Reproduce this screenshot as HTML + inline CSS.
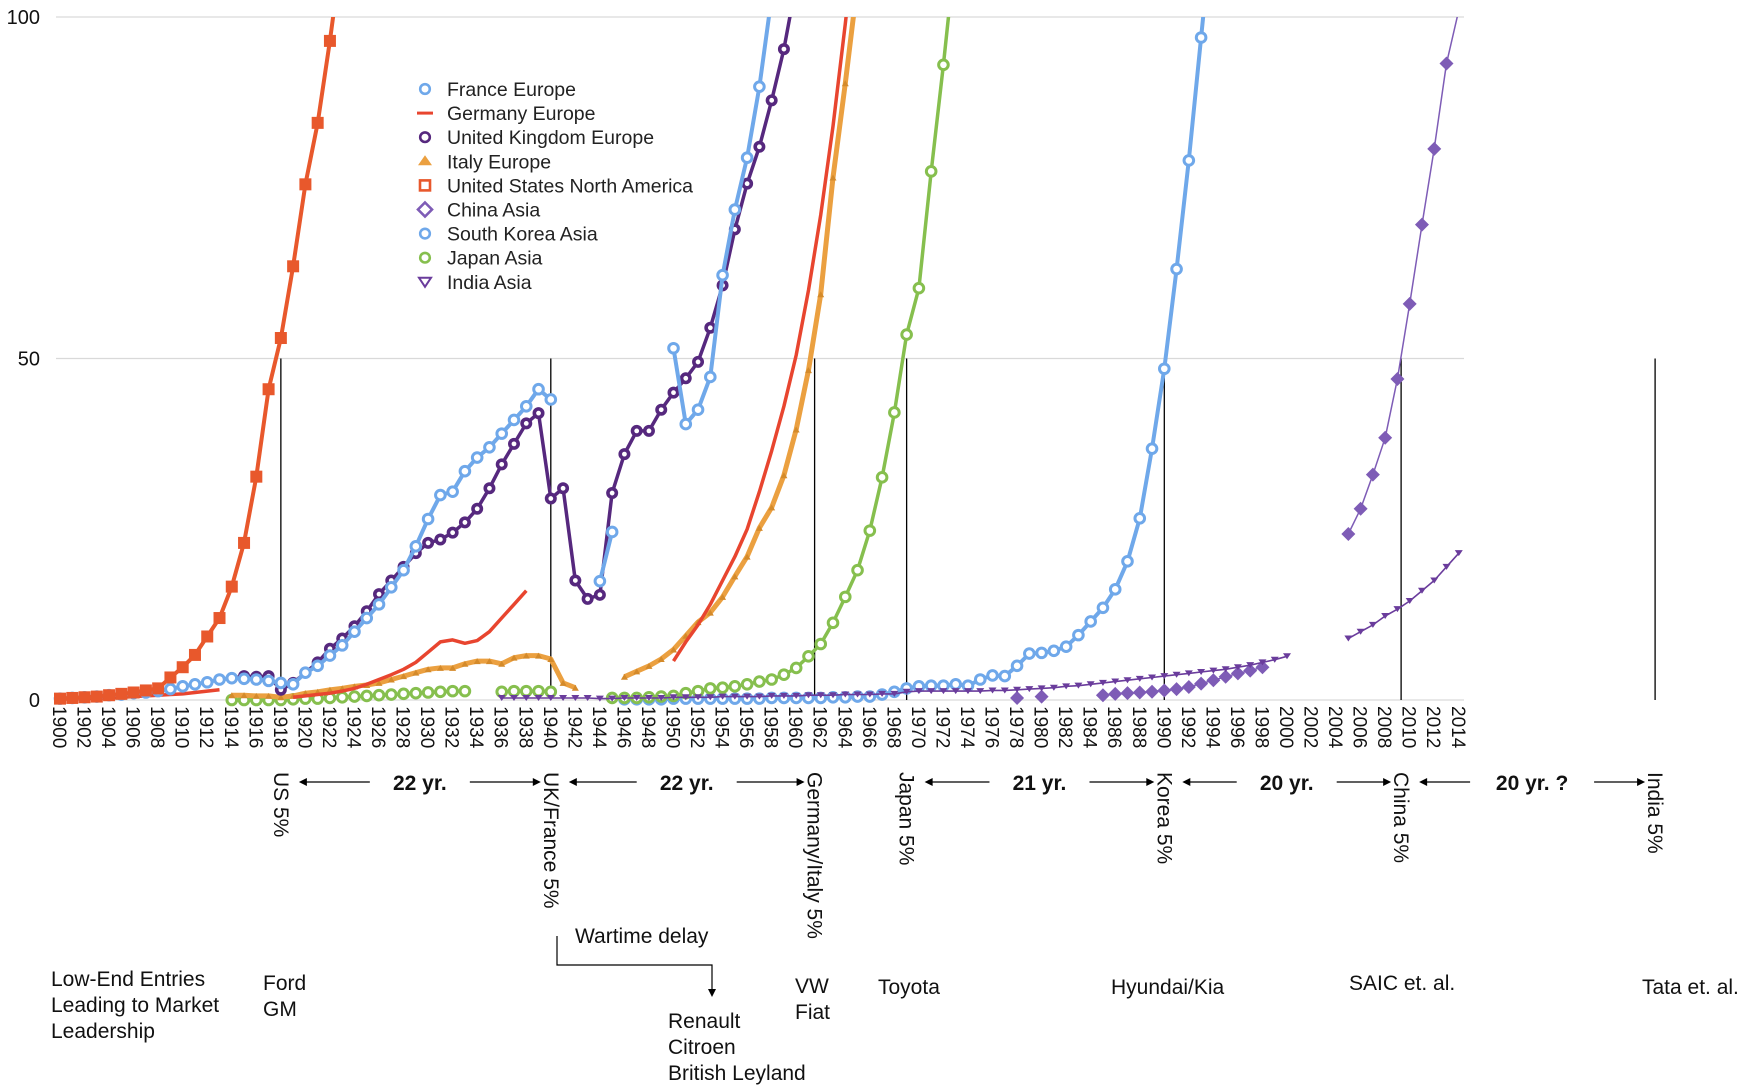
<!DOCTYPE html>
<html><head><meta charset="utf-8"><style>
html,body{margin:0;padding:0;background:#fff;}
svg{display:block;font-family:"Liberation Sans",Arial,sans-serif;}
</style></head><body>
<svg id="chart" width="1760" height="1090" viewBox="0 0 1760 1090" xmlns="http://www.w3.org/2000/svg">
<defs><clipPath id="plotclip"><rect x="40" y="17" width="1440" height="700"/></clipPath></defs>
<g id="grid"></g>
<g id="xticks"></g>
<g id="yticks"></g>
<g id="marks"></g>
<g id="series" clip-path="url(#plotclip)"></g>
<g id="legend"></g>
<g id="annot" font-size="20" fill="#111"></g>
</svg>
<script>
const yTicks=[0,50,100];
const yearStart=1900, yearEnd=2014;
const markerYears=[1918,1940,1961.5,1969,1990,2009.3,2030];
const markerLabels=["US 5%","UK/France 5%","Germany/Italy 5%","Japan 5%","Korea 5%","China 5%","India 5%"];
const gapFrom=[0,1,3,4,5];
const gapLabels=["22 yr.","22 yr.","21 yr.","20 yr.","20 yr. ?"];
const N=null;
const usStart=1900;
const usVals=[0.2,0.3,0.4,0.5,0.7,0.9,1.1,1.4,1.7,3.3,4.8,6.6,9.3,12,16.6,23,32.7,45.5,53,63.5,75.5,84.5,96.5,110];
const franceStart=1900;
const franceVals=[0.2,0.3,0.4,0.5,0.7,0.8,1,1.1,1.3,1.6,2,2.3,2.6,3,3.2,3.1,3,2.8,2.5,2.3,4,5,6.5,8,10,12,14,16.5,19,22.5,26.5,30,30.5,33.5,35.5,37,39,41,43,45.5,44,N,N,N,17.4,24.6,N,N,N,N,51.5,40.4,42.5,47.3,62.2,71.8,79.4,89.8,103];
const germanyStart=1900;
const germanyVals=[0.1,0.15,0.2,0.25,0.3,0.4,0.5,0.6,0.7,0.8,0.9,1.1,1.3,1.5,N,N,N,N,N,0.4,0.6,0.8,1,1.3,1.7,2.3,3,3.7,4.5,5.5,7,8.5,8.8,8.3,8.7,10,12,14,16,N,N,N,N,N,N,N,N,N,N,N,5.7,8.5,11,14,17.5,21,25,30.5,36.5,43,50.5,60,71,84,99,115];
const ukStart=1914;
const ukVals=[3.2,3.5,3.4,3.5,1.5,2.5,4,5.5,7.5,9,10.8,13,15.5,17.5,19.5,21.5,23,23.5,24.5,26,28,31,34.5,37.5,40.5,42,29.5,31,17.5,14.8,15.4,30.3,36,39.4,39.4,42.5,45,47.1,49.5,54.5,60.7,68.9,75.6,81,87.8,95.3,105];
const italyStart=1914;
const italyVals=[0.7,0.7,0.6,0.6,0.4,0.6,1,1.2,1.5,1.7,2,2.2,2.5,3,3.5,4,4.5,4.7,4.7,5.3,5.7,5.7,5.3,6.2,6.5,6.5,6,2.5,1.8,N,N,N,3.4,4.2,5,6,7.4,9.4,11.4,12.8,15.1,18.1,21,25.2,28.2,32.9,39.6,48.3,59.4,76.5,90.3,105];
const chinaStart=1978;
const chinaVals=[0.3,N,0.5,N,N,N,N,0.7,0.9,1,1.1,1.2,1.4,1.6,1.9,2.4,2.9,3.4,3.9,4.3,4.8,N,N,N,N,N,N,24.3,28,33,38.4,47,58,69.6,80.7,93.2,101];
const koreaStart=1946;
const koreaVals=[0.1,0.1,0.1,0.1,0.2,0.2,0.2,0.2,0.2,0.2,0.2,0.2,0.3,0.3,0.3,0.3,0.3,0.4,0.4,0.5,0.5,0.8,1.2,1.7,2,2.1,2.1,2.3,2.1,3,3.6,3.5,5,6.8,6.9,7.2,7.8,9.5,11.5,13.5,16.2,20.3,26.6,36.8,48.5,63.1,79,97,115];
const japanStart=1914;
const japanVals=[0,0,0,0,0,0.1,0.2,0.2,0.3,0.4,0.5,0.6,0.7,0.8,0.9,1,1.1,1.2,1.3,1.3,N,N,1.2,1.3,1.3,1.3,1.2,N,N,N,N,0.3,0.3,0.3,0.4,0.5,0.6,1,1.3,1.7,1.8,2,2.3,2.7,3,3.7,4.7,6.4,8.2,11.3,15.1,19,24.8,32.6,42.1,53.5,60.3,77.4,93,110];
const indiaStart=1936;
const indiaVals=[0.3,0.3,0.3,0.3,0.3,0.3,0.3,0.3,0.2,0.2,0.3,0.3,0.3,0.3,0.4,0.4,0.4,0.4,0.5,0.5,0.5,0.5,0.6,0.6,0.6,0.7,0.7,0.7,0.8,0.8,0.8,0.9,0.9,1.2,1.3,1.3,1.3,1.3,1.3,1.3,1.4,1.4,1.5,1.6,1.7,1.8,2,2.1,2.3,2.5,2.7,2.9,3.1,3.3,3.5,3.7,3.9,4.1,4.3,4.5,4.8,5.1,5.5,5.9,6.4,N,N,N,N,9,10,11,12.3,13.3,14.5,16,17.5,19.5,21.5];
const legendNames=["France Europe","Germany Europe","United Kingdom Europe","Italy Europe","United States North America","China Asia","South Korea Asia","Japan Asia","India Asia"];

const NS="http://www.w3.org/2000/svg";
function xs(yr){return 60+12.27*(yr-1900);}
function ys(v){return 700-6.83*v;}
function mk(tag,attrs,parent){const e=document.createElementNS(NS,tag);for(const k in attrs)e.setAttribute(k,attrs[k]);parent.appendChild(e);return e;}
const G=id=>document.getElementById(id);

yTicks.forEach(t=>{
  const l=mk('line',{x1:56,x2:1464,y1:ys(t),y2:ys(t),stroke:'#d9d9d9','stroke-width':1.2},G('grid'));
  
  
  const tx=mk('text',{x:40,y:ys(t)+7,'text-anchor':'end','font-size':20,fill:'#111'},G('yticks'));
  tx.textContent=t;
  
  
});
for(let yr=yearStart;yr<=yearEnd;yr+=2){
  const t=mk('text',{transform:`translate(${xs(yr)-7},706) rotate(90)`,'font-size':19,fill:'#111'},G('xticks'));
  t.textContent=yr;
  
  
}
markerYears.forEach((yr,i)=>{
  const l=mk('line',{x1:xs(yr),x2:xs(yr),y1:ys(50),y2:ys(0),stroke:'#000','stroke-width':1.3},G('marks'));
  
  
  const t=mk('text',{transform:`translate(${xs(yr)-7},772) rotate(90)`,'font-size':21,fill:'#111'},G('annot'));
  t.textContent=markerLabels[i];
  
  
});
for(let i=0;i<gapLabels.length;i++){
  const k=gapFrom[i];
  const a=xs(markerYears[k])+22, b=xs(markerYears[k+1])-14, mid=(a+b)/2, y=782;
  const half=gapLabels[i].length*6+14;
  const g=mk('g',{},G('annot'));
  
  
  mk('line',{x1:a,x2:mid-half,y1:y,y2:y,stroke:'#000','stroke-width':1.2},g);
  mk('line',{x1:mid+half,x2:b,y1:y,y2:y,stroke:'#000','stroke-width':1.2},g);
  mk('path',{d:`M${a-4},${y} l8,-4 v8z`,fill:'#000'},g);
  mk('path',{d:`M${b+4},${y} l-8,-4 v8z`,fill:'#000'},g);
  const t=mk('text',{x:mid,y:y+8,'text-anchor':'middle','font-size':21,'font-weight':'bold',fill:'#111'},g);
  t.textContent=gapLabels[i];
}
function pathFor(start,vals){
  let d='',pen=false;
  vals.forEach((v,i)=>{if(v===null){pen=false;return;}d+=(pen?'L':'M')+xs(start+i).toFixed(1)+','+ys(v).toFixed(1);pen=true;});
  return d;
}
function marker(g,type,x,y,color){
  if(type==='circle') mk('circle',{cx:x,cy:y,r:4.8,fill:'#fff',stroke:color,'stroke-width':3},g);
  else if(type==='ukcircle') mk('circle',{cx:x,cy:y,r:4.2,fill:'#fff',stroke:color,'stroke-width':3.6},g);
  else if(type==='square') mk('rect',{x:x-6,y:y-6,width:12,height:12,fill:color},g);
  else if(type==='diamond') mk('path',{d:`M${x},${y-7}l7,7l-7,7l-7,-7z`,fill:color},g);
  else if(type==='tri') mk('path',{d:`M${x-4},${y-3}h8l-4,6z`,fill:color},g);
  else if(type==='triup') mk('path',{d:`M${x-3.5},${y+3}h7l-3.5,-6z`,fill:'#d48a2a'},g);
}
const specs=[
  {name:'south-korea',start:koreaStart,vals:koreaVals,color:'#6FA8EA',w:4,m:'circle'},
  {name:'japan',start:japanStart,vals:japanVals,color:'#86BF4E',w:3.5,m:'circle'},
  {name:'italy',start:italyStart,vals:italyVals,color:'#EBA040',w:5,m:'triup'},
  {name:'germany',start:germanyStart,vals:germanyVals,color:'#E8452F',w:3.5,m:null},
  {name:'united-kingdom',start:ukStart,vals:ukVals,color:'#56287E',w:3.5,m:'ukcircle'},
  {name:'france',start:franceStart,vals:franceVals,color:'#6FA8EA',w:4,m:'circle'},
  {name:'united-states',start:usStart,vals:usVals,color:'#E8582C',w:4,m:'square'},
  {name:'china',start:chinaStart,vals:chinaVals,color:'#7E5CB6',w:1.5,m:'diamond'},
  {name:'india',start:indiaStart,vals:indiaVals,color:'#6A3C9C',w:1.6,m:'tri'}
];
specs.forEach(s=>{
  const g=mk('g',{},G('series'));
  
  
  const p=mk('path',{d:pathFor(s.start,s.vals),fill:'none',stroke:s.color,'stroke-width':s.w,'stroke-linejoin':'round'},g);
  
  
  if(s.m) s.vals.forEach((v,i)=>{ if(v!==null&&v<=100.5) marker(g,s.m,xs(s.start+i),ys(v),s.color); });
});
const legStyles=[['circle','#6FA8EA'],['line','#E8452F'],['ukcircle','#56287E'],['triup2','#EBA040'],['sqo','#E8582C'],['dmo','#7E5CB6'],['circle','#6FA8EA'],['circle','#86BF4E'],['tri','#6A3C9C']];
legendNames.forEach((n,i)=>{
  const y=89+24.1*i, x=425;
  const g=mk('g',{},G('legend'));
  
  
  const [t,c]=legStyles[i];
  if(t==='line') mk('line',{x1:x-8,x2:x+8,y1:y,y2:y,stroke:c,'stroke-width':3},g);
  else if(t==='triup2') mk('path',{d:`M${x-7},${y+4}h14l-7,-10z`,fill:c},g);
  else if(t==='sqo') mk('rect',{x:x-5,y:y-5,width:10,height:10,fill:'#fff',stroke:c,'stroke-width':2.6},g);
  else if(t==='dmo') mk('path',{d:`M${x},${y-7}l7,7l-7,7l-7,-7z`,fill:'#fff',stroke:c,'stroke-width':2.6},g);
  else if(t==='tri') mk('path',{d:`M${x-6},${y-4}h12l-6,9z`,fill:'#fff',stroke:c,'stroke-width':2},g);
  else mk('circle',{cx:x,cy:y,r:4.8,fill:'#fff',stroke:c,'stroke-width':2.6},g);
  const tx=mk('text',{x:447,y:y+7,'font-size':19.5,fill:'#222'},g);
  tx.textContent=n;
});
function txt(lines,x,y,name,lh){
  const t=mk('text',{x:x,y:y,'font-size':21,fill:'#111'},G('annot'));
  
  
  lines.forEach((s,i)=>{const sp=mk('tspan',{x:x,y:y+i*(lh||26)},t);sp.textContent=s;});
}
txt(["Low-End Entries","Leading to Market","Leadership"],51,986,'low-end-entries-note');
txt(["Ford","GM"],263,990,'us-makers');
txt(["Wartime delay"],575,943,'wartime-delay-label');
txt(["Renault","Citroen","British Leyland"],668,1028,'uk-france-makers');
txt(["VW","Fiat"],795,993,'germany-italy-makers');
txt(["Toyota"],878,994,'japan-makers');
txt(["Hyundai/Kia"],1111,994,'korea-makers');
txt(["SAIC et. al."],1349,990,'china-makers');
txt(["Tata et. al."],1642,994,'india-makers');
const br=mk('path',{d:'M557,936 V965 H712 V990',fill:'none',stroke:'#000','stroke-width':1.2},G('annot'));


const ah=mk('path',{d:'M708,989 h8 l-4,8z',fill:'#000'},G('annot'));


</script>
</body></html>
